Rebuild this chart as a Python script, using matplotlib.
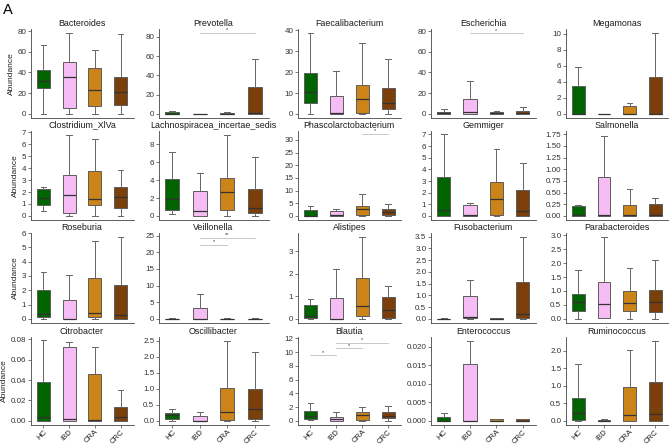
import numpy as np
import matplotlib.pyplot as plt

plt.rcParams['font.family'] = ['Liberation Sans', 'DejaVu Sans']

groups = ['HC', 'IBD', 'CRA', 'CRC']
taxa = ['Bacteroides', 'Prevotella', 'Faecalibacterium', 'Escherichia', 'Megamonas',
        'Clostridium_XlVa', 'Lachnospiracea_incertae_sedis', 'Phascolarctobacterium', 'Gemmiger', 'Salmonella',
        'Roseburia', 'Veillonella', 'Alistipes', 'Fusobacterium', 'Parabacteroides',
        'Citrobacter', 'Oscillibacter', 'Blautia', 'Enterococcus', 'Ruminococcus']

# box stats per taxon, one value per group (HC, IBD, CRA, CRC)
whisk_lo = [
    [0, 0, 0, 0], [0, 0, 0, 0], [0, 0, 0, 0], [0, 0, 0, 0], [0, 0, 0, 0],
    [0.39, 0, 0, 0], [0.25, 0, 0, 0], [0, 0, 0, 0], [0, 0, 0, 0], [0, 0, 0, 0],
    [0, 0, 0, 0], [0, 0, 0, 0], [0, 0, 0, 0], [0, 0, 0, 0], [0, 0.02, 0, 0],
    [0, 0, 0, 0], [0, 0, 0, 0], [0.1, 0, 0, 0], [0, 0, 0, 0], [0, 0, 0, 0]]
q1 = [
    [25, 5.4, 8, 8.6], [0, 0, 0, 0], [5, 0, 0.3, 2.4], [0, 0.3, 0, 0.2], [0, 0, 0, 0],
    [0.92, 0.25, 0.92, 0.64], [0.65, 0, 0.63, 0.33], [0, 0, 0.5, 0.5], [0, 0, 0.1, 0], [0, 0, 0, 0],
    [0.1, 0, 0.1, 0.02], [0, 0, 0, 0], [0.03, 0, 0.13, 0.06], [0, 0.03, 0, 0.04], [0.29, 0.04, 0.29, 0.26],
    [0, 0, 0, 0.0003], [0.06, 0, 0.02, 0.06], [0.24, 0.05, 0.14, 0.38], [0, 0, 0, 0], [0.02, 0, 0, 0]]
med = [
    [32, 35.5, 23, 21.4], [0.3, 0, 0.3, 1], [10.6, 0.3, 7.2, 5], [0.6, 1.6, 0.5, 1.2], [0, 0, 0.05, 0.02],
    [1.5, 1.75, 1.42, 1.55], [1.9, 0.6, 2.65, 0.9], [0.1, 0.5, 2.6, 1.4], [0.49, 0.05, 1.44, 0.4], [0.03, 0.03, 0.03, 0.03],
    [0.35, 0.02, 0.42, 0.26], [0, 0.1, 0.05, 0], [0.13, 0, 0.58, 0.4], [0, 0.07, 0, 0.19], [0.61, 0.54, 0.58, 0.59],
    [0.0037, 0.0023, 0.0013, 0.0037], [0.18, 0.01, 0.27, 0.36], [0.71, 0.28, 0.85, 0.71], [0.0001, 0, 0, 0], [0.23, 0.01, 0.16, 0.19]]
q3 = [
    [42, 50, 44, 36], [2, 0.1, 1, 28], [19.5, 8.5, 14, 12.5], [2.2, 14.4, 1.6, 3.2], [3.5, 0.02, 1.0, 4.55],
    [2.28, 3.42, 3.75, 2.44], [4.15, 2.78, 4.22, 2.96], [2.2, 2.0, 3.9, 2.9], [3.31, 0.95, 2.88, 2.19], [0.21, 0.84, 0.24, 0.255],
    [2.04, 1.34, 2.89, 2.37], [0.1, 3.3, 0.1, 0.1], [0.6, 0.94, 1.8, 0.99], [0.01, 0.99, 0.03, 1.57], [0.91, 1.33, 1.0, 1.03],
    [0.0385, 0.072, 0.0455, 0.0136], [0.26, 0.16, 1.02, 0.99], [1.42, 0.52, 1.28, 1.28], [0.001, 0.0154, 0.0005, 0.0005], [0.67, 0.03, 0.98, 1.11]]
whisk_hi = [
    [66.5, 78, 62, 77], [3.2, 0.2, 1.8, 57], [38.7, 20.6, 33.9, 26.4], [4.8, 31.7, 2.9, 6.7], [5.85, 0.05, 1.33, 10.1],
    [2.42, 6.78, 6.44, 3.83], [7.1, 4.75, 9.0, 6.55], [3.8, 2.6, 8.5, 4.6], [7.0, 1.12, 5.73, 4.52], [0.24, 1.72, 0.58, 0.38],
    [3.29, 3.08, 5.42, 5.7], [0.2, 7.4, 0.2, 0.2], [0.88, 2.21, 3.63, 1.45], [0.02, 1.64, 0.05, 3.5], [1.76, 2.92, 1.84, 2.1],
    [0.0795, 0.0774, 0.072, 0.0302], [0.38, 0.27, 2.5, 2.14], [2.56, 1.28, 1.99, 2.23], [0.0021, 0.0216, 0.0005, 0.0005], [1.62, 0.06, 2.04, 2.29]]

# (taxon index, group a, group b, bracket height, label)
signif = [(1, 2, 4, 84, '*'), (3, 2, 4, 78, '*'), (7, 3, 4, 32.4, '*'),
          (11, 2, 3, 22.3, '*'), (11, 2, 4, 24.4, '**'),
          (17, 1, 2, 9.6, '*'), (17, 2, 3, 10.6, '*'), (17, 2, 4, 11.4, '*')]

ytop = [82, 88, 40.7, 82, 10.6,
        7.1, 9.5, 33.5, 7.3, 1.82,
        6.0, 25.8, 3.82, 3.65, 3.08,
        0.082, 2.62, 12.2, 0.0226, 2.4]
ystep = [20, 20, 10, 20, 2,
         1, 2, 5, 1, 0.25,
         1, 5, 1, 0.5, 0.5,
         0.02, 0.5, 2, 0.005, 0.5]

colors = ['#006400', '#F6BDF4', '#CC8419', '#7B3F0C']

W, H = 669, 445
col_l = [30.5, 158.5, 297.5, 430.5, 565.5]
col_r = [133.5, 268.5, 401, 536, 668]
row_t = [29, 131, 233, 337]
row_b = [118, 220, 323, 425]

fig = plt.figure(figsize=(W / 100, H / 100), dpi=100)
fig.text(3 / W, 1 - 14 / H, 'A', fontsize=10.5, ha='left', va='baseline')

axes = []
for i, name in enumerate(taxa):
    r, c = divmod(i, 5)
    ax = fig.add_axes([col_l[c] / W, 1 - row_b[r] / H,
                       (col_r[c] - col_l[c]) / W, (row_b[r] - row_t[r]) / H])
    axes.append(ax)
    stats = []
    for g in range(4):
        stats.append(dict(whislo=whisk_lo[i][g], q1=q1[i][g], med=med[i][g],
                          q3=q3[i][g], whishi=whisk_hi[i][g], fliers=[]))
    bp = ax.bxp(stats, positions=[1, 2, 3, 4], widths=0.5, capwidths=0.22,
                patch_artist=True, showfliers=False,
                boxprops=dict(edgecolor='#5c5c5c', linewidth=0.7),
                medianprops=dict(color='#333333', linewidth=0.9),
                whiskerprops=dict(color='#666666', linewidth=0.7),
                capprops=dict(color='#666666', linewidth=0.7))
    for patch, col in zip(bp['boxes'], colors):
        patch.set_facecolor(col)

    top = ytop[i]
    ax.set_ylim(-0.048 * top, top)
    ax.set_xlim(0.5, 4.5)
    step = ystep[i]
    s = str(step)
    dec = len(s.split('.')[1]) if '.' in s else 0
    ticks = np.arange(0, top + 1e-9, step)
    ticks = ticks[ticks <= top]
    ax.set_yticks(ticks)
    ax.set_yticklabels([f'{t:.{dec}f}' for t in ticks])

    ax.set_title(name, fontsize=6.4, pad=2.5, color='#1a1a1a')
    for side in ['top', 'right']:
        ax.spines[side].set_visible(False)
    for side in ['left', 'bottom']:
        ax.spines[side].set_color('#444444')
        ax.spines[side].set_linewidth(0.6)
    ax.tick_params(axis='y', labelsize=5.8, length=2, width=0.5, pad=1,
                   colors='#444444', labelcolor='#333333')
    if r == 3:
        ax.set_xticks([1, 2, 3, 4])
        ax.set_xticklabels(groups, rotation=45, ha='right', rotation_mode='anchor')
        ax.tick_params(axis='x', labelsize=5.6, length=2, width=0.5, pad=0.5,
                       colors='#444444', labelcolor='#222222')
    else:
        ax.set_xticks([])
    if c == 0:
        ax.set_ylabel('Abundance', fontsize=6, labelpad=2, color='#222222')

for i, a, b, y, lab in signif:
    ax = axes[i]
    ax.plot([a, b], [y, y], color='#b0b0b0', lw=0.5, clip_on=False)
    ax.text((a + b) / 2, y + ytop[i] * 0.004, lab, fontsize=4, ha='center',
            va='bottom', color='#333333')

fig.savefig('out.png', dpi=100)
